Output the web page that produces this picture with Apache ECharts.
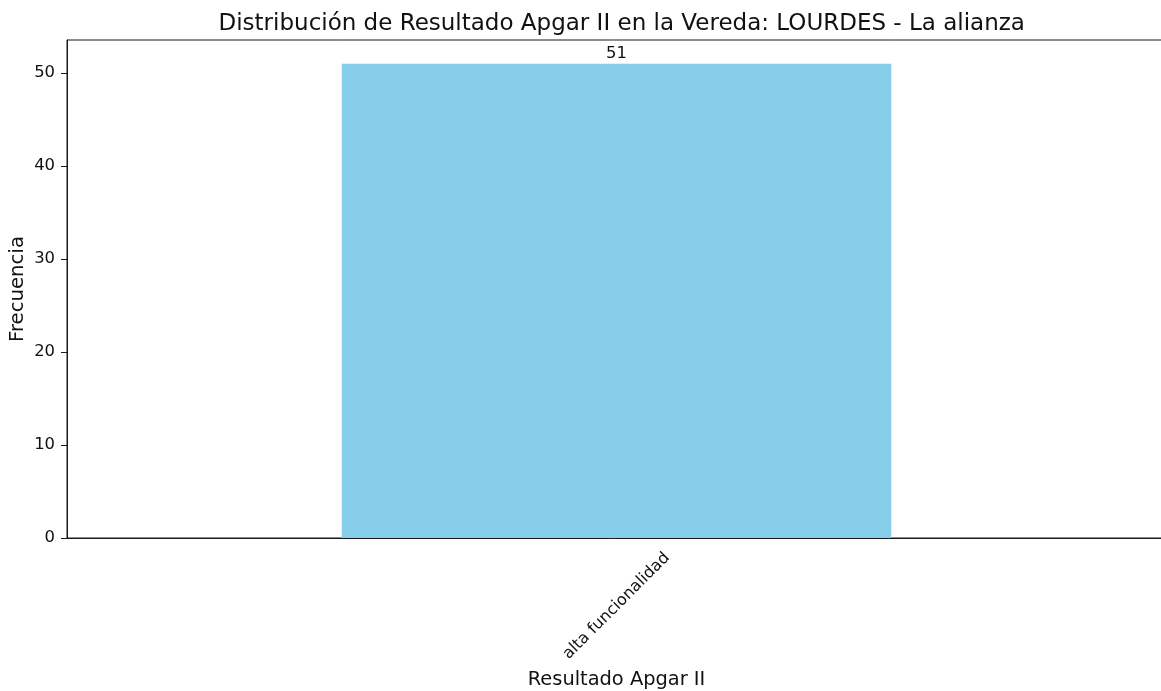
<!DOCTYPE html>
<html>
<head>
<meta charset="utf-8">
<script src="https://cdn.jsdelivr.net/npm/echarts@6/dist/echarts.min.js"></script>
<style>
  html, body { margin: 0; padding: 0; background: #fff; }
  #chart { width: 1161px; height: 691px; }
</style>
</head>
<body>
<div id="chart"></div>
<script>
// Frequency of each Apgar II result
const categories = ['alta funcionalidad'];
const frequencies = [51];
const yTicks = [0, 10, 20, 30, 40, 50];

const chart = echarts.init(document.getElementById('chart'));
const font = 'DejaVu Sans';
const ink = '#111';
const spine = '#1a1a1a';

chart.setOption({
  animation: false,
  textStyle: { fontFamily: font },
  title: {
    text: 'Distribución de Resultado Apgar II en la Vereda: LOURDES - La alianza',
    left: 616.7, top: 8,
    textAlign: 'center',
    textStyle: { fontFamily: font, fontSize: 23, fontWeight: 'normal', color: ink }
  },
  grid: {
    left: 67, top: 40, width: 1099, height: 498,
    containLabel: false,
    outerBoundsMode: 'none',
    show: true, borderColor: spine, borderWidth: 1, backgroundColor: 'transparent'
  },
  xAxis: {
    type: 'category',
    data: categories,
    name: 'Resultado Apgar II',
    nameLocation: 'middle',
    nameGap: 132,
    nameMoveOverlap: false,
    nameTextStyle: { fontFamily: font, fontSize: 19.4, color: ink },
    axisLine: { lineStyle: { color: spine, width: 1 } },
    axisTick: { alignWithLabel: true, length: 6, lineStyle: { color: spine } },
    // rotated label centred under its tick
    axisLabel: {
      rotate: 45, margin: 68, align: 'center', verticalAlign: 'middle',
      fontFamily: font, fontSize: 16, color: ink
    },
    splitLine: { show: false }
  },
  yAxis: {
    type: 'value',
    min: 0,
    max: 53.55,
    interval: 10,
    name: 'Frecuencia',
    nameLocation: 'middle',
    nameGap: 39,
    nameMoveOverlap: false,
    nameTextStyle: { fontFamily: font, fontSize: 19.7, color: ink },
    axisLine: { show: true, lineStyle: { color: spine, width: 1 } },
    axisTick: { show: true, length: 6, customValues: yTicks, lineStyle: { color: spine } },
    axisLabel: { customValues: yTicks, margin: 12, fontFamily: font, fontSize: 16.4, color: ink },
    splitLine: { show: false }
  },
  series: [{
    type: 'bar',
    data: frequencies,
    barWidth: '50%',
    itemStyle: { color: '#87CEEB' },
    label: {
      show: true,
      position: 'top',
      distance: 2,
      fontFamily: font,
      fontSize: 16.4,
      color: ink
    }
  }]
});
</script>
</body>
</html>
